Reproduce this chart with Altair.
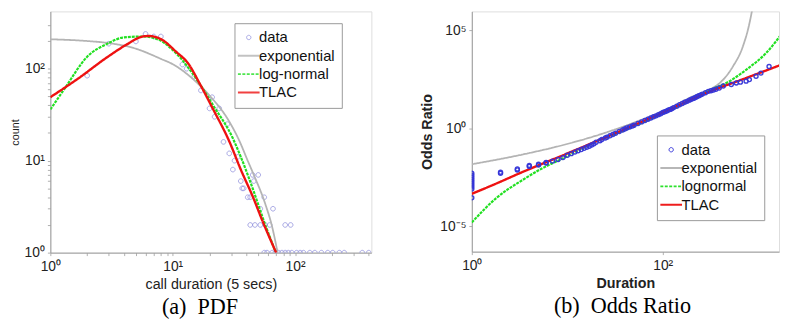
import altair as alt
import pandas as pd

# ---------------- (a) PDF panel ----------------
pdf_x = [2, 3, 5, 6, 7, 8, 12, 13, 15, 17, 20, 21, 22, 24, 26, 28, 29, 31, 32, 34,
         36, 37, 38, 41, 43, 45, 46, 50, 52, 56, 66,
         43, 47, 52, 57, 62, 83, 92,
         56, 59, 65, 69, 73, 78, 83, 88, 94, 103, 110, 117, 132, 145, 164, 185, 203,
         230, 252, 354, 400]
pdf_count = [84, 187, 198, 239, 224, 224, 111, 100, 82, 58, 37, 49, 30, 37, 16, 25, 12, 8, 10, 11,
             6, 5, 5, 4, 4, 7, 6, 7, 3, 4, 3,
             2, 2, 2, 2, 2, 2, 2,
             1, 1, 1, 1, 1, 1, 1, 1, 1, 1, 1, 1, 1, 1, 1, 1, 1,
             1, 1, 1, 1]

exp_x = [1, 2, 3, 5, 8, 10, 15, 20, 28, 35, 41, 46, 57, 65, 72]
exp_y = [209, 200, 190, 165, 128, 112, 75, 51, 28.7, 16.5, 10, 7, 3.4, 1.9, 1.0]

logn_x = [1, 1.3, 2, 3, 3.9, 5.7, 7.7, 10.6, 16.2, 21.4, 31, 36, 46, 55, 69]
logn_y = [36, 60, 135, 190, 218, 224, 206, 148, 72, 40, 17.5, 11, 4.6, 2.3, 1.03]

tlac_x = [1, 1.66, 3, 4.17, 5.7, 6.4, 8.2, 10.6, 13.5, 16.7, 21, 29, 36, 45, 55, 70]
tlac_y = [49, 77, 137, 182, 224, 227, 206, 154, 112, 68, 38, 16.2, 8, 4.1, 2.1, 1.0]

# ---------------- (b) Odds Ratio panel (log10 of odds ratio) ----------------
or_x = [1, 1, 1, 1, 1, 1, 1, 1, 1, 1,
        2, 2, 3, 3, 4, 4, 5, 5, 6, 6, 7, 8, 9, 10, 11, 12, 13, 14, 15, 16, 17, 18, 19,
        20, 22, 23, 25, 26, 28, 30, 32, 35, 38, 40, 42, 45, 48, 50, 55, 60, 65, 70, 75,
        80, 85, 90, 95, 100, 105, 110, 115, 120, 125, 130, 140, 150, 160, 170, 180, 190,
        200, 210, 220, 230, 240, 250, 260, 280, 300, 320, 340, 360, 390, 430, 522, 589,
        650, 746, 807, 948, 1067, 1298, 1778]
or_log = [-2.3, -2.4, -2.5, -2.6, -2.7, -2.8, -2.9, -3.0, -3.1, -3.55,
          -2.30, -2.25, -2.13, -2.08, -1.95, -1.90, -1.88, -1.84, -1.78, -1.75, -1.68,
          -1.60, -1.50, -1.38, -1.30, -1.22, -1.15, -1.09, -1.03, -0.97, -0.92, -0.86,
          -0.80, -0.72, -0.64, -0.58, -0.50, -0.46, -0.39, -0.32, -0.26, -0.17, -0.09,
          -0.04, 0.01, 0.06, 0.11, 0.15, 0.24, 0.32, 0.39, 0.46, 0.52, 0.58, 0.63, 0.69,
          0.74, 0.80, 0.84, 0.88, 0.93, 0.96, 1.00, 1.05, 1.12, 1.20, 1.26, 1.32, 1.37,
          1.43, 1.48, 1.52, 1.57, 1.62, 1.66, 1.70, 1.74, 1.81, 1.88, 1.91, 1.95, 1.99,
          2.05, 2.15, 2.23, 2.31, 2.35, 2.40, 2.48, 2.65, 2.81, 3.15, 3.48]

orexp_x = [1, 3.2, 8.9, 23, 51, 112, 210, 300, 396, 543, 689, 807, 874]
orexp_log = [-1.84, -1.37, -0.87, -0.29, 0.30, 0.97, 1.64, 1.94, 2.31, 3.15, 4.16, 5.33, 6.17]

orlogn_x = [1, 1.82, 3.44, 5.5, 8.9, 19.6, 37, 100, 200, 300, 502, 746, 1200, 1930]
orlogn_log = [-4.81, -3.55, -2.63, -2.04, -1.55, -0.70, -0.17, 0.75, 1.45, 1.90, 2.40, 2.98, 3.82, 5.08]

ortlac_x = [1, 2, 3, 10, 37, 100, 300, 746, 1930]
ortlac_log = [-3.35, -2.73, -2.35, -1.29, -0.12, 0.80, 1.84, 2.56, 3.32]

# ---------------- styling ----------------
C_DATA_A = "#9090dc"
C_DATA_B = "#3434d8"
C_EXP = "#b4b4b4"
C_LOGN = "#22e022"
C_TLAC = "#ee1111"
CIRCLE = "M-0.2,0A0.2,0.2,0,1,1,0.2,0A0.2,0.2,0,1,1,-0.2,0Z"
LINE = "M-1,0L1,0"
SANS = "Liberation Sans"


def lines_df(xs, ys, names, logy=False):
    rows = []
    for x, y, n in zip(xs, ys, names):
        for a, b in zip(x, y):
            rows.append({"x": a, "y": (10 ** b) if logy else b, "series": n})
    return pd.DataFrame(rows)


def decade_values(lo, hi):
    vals = []
    d = 1
    while d <= hi:
        for m in range(1, 10):
            v = m * d
            if lo <= v <= hi:
                vals.append(v)
        d *= 10
    return vals


def panel(points_df, lines, names, colors, widths, dashes, pt_size, pt_width, pt_op,
          xdom, ydom, xaxis, yaxis, legend_xy, caption, cap_dx, w, h, points_on_top):
    cscale = alt.Scale(domain=names, range=colors)
    sscale = alt.Scale(domain=names, range=[CIRCLE, LINE, LINE, LINE])
    legend = alt.Legend(
        title=None, orient="none", legendX=legend_xy[0], legendY=legend_xy[1],
        labelFont=SANS, labelFontSize=15, labelColor="#111", symbolSize=484,
        symbolStrokeWidth={"expr": "datum.value === '%s' ? 1 : 2" % names[0]},
        symbolDash={"expr": "datum.value === '%s' ? [3, 1.5] : [1, 0]" % names[2]},
        rowPadding=2.6, labelOffset=3, padding=7, strokeColor="#999", fillColor="white",
        symbolFillColor="transparent",
    )
    x = alt.X("x:Q", scale=alt.Scale(type="log", domain=xdom, nice=False), axis=xaxis)
    y = alt.Y("y:Q", scale=alt.Scale(type="log", domain=ydom, nice=False), axis=yaxis)
    pts = alt.Chart(points_df).mark_point(filled=False, size=pt_size, strokeWidth=pt_width,
                                          opacity=pt_op, clip=True).encode(
        x=x, y=y,
        color=alt.Color("series:N", scale=cscale, legend=legend),
        shape=alt.Shape("series:N", scale=sscale, legend=legend),
    )
    line_layers = []
    for n, wdt, dsh in zip(names[1:], widths, dashes):
        line_layers.append(
            alt.Chart(lines).transform_filter(alt.datum.series == n)
            .mark_line(strokeWidth=wdt, strokeDash=dsh, clip=True, interpolate="monotone")
            .encode(x=x, y=y, color=alt.Color("series:N", scale=cscale, legend=legend))
        )
    layers = line_layers + [pts] if points_on_top else [pts] + line_layers
    return alt.layer(*layers).properties(
        width=w, height=h,
        title=alt.TitleParams(caption, orient="bottom", anchor="middle", dx=cap_dx,
                              font="Liberation Serif", fontSize=22.5, fontWeight="normal",
                              color="#000", offset=6),
    )


axis_common = dict(grid=False, domainColor="#9a9a9a", tickColor="#b0b0b0", tickSize=3,
                   labelFont=SANS, labelFontSize=14, labelColor="#222", labelOverlap=False,
                   labelFlush=False, titleFont=SANS, titleColor="#222")

# ----- panel (a)
names_a = ["data", "exponential", "log-normal", "TLAC"]
pts_a = pd.DataFrame({"x": pdf_x, "y": pdf_count, "series": "data"})
lines_a = lines_df([exp_x, logn_x, tlac_x], [exp_y, logn_y, tlac_y], names_a[1:])
xa_vals = decade_values(1, 420)
ya_vals = decade_values(1, 300)
lab_a = ("datum.value == 1 ? '10\u2070' : datum.value == 10 ? '10\u00b9' : "
         "datum.value == 100 ? '10\u00b2' : ''")
xa = alt.Axis(values=xa_vals, labelExpr=lab_a, title="call duration (5 secs)",
              titleFontSize=14.5, titleFontWeight="normal", labelPadding=4, titlePadding=4,
              **axis_common)
ya = alt.Axis(values=ya_vals, labelExpr=lab_a, title="count", titleFontSize=11,
              titleFontWeight="normal", labelPadding=3, titlePadding=4, **axis_common)
left = panel(pts_a, lines_a, names_a, [C_DATA_A, C_EXP, C_LOGN, C_TLAC], [1.8, 2.2, 2.4],
             [[1, 0], [3, 1], [1, 0]], 560, 1, 0.8, [1, 420], [1, 420], xa, ya, (187, 12),
             "(a)\u2002PDF", -11, 326, 245, False)

# ----- panel (b)
names_b = ["data", "exponential", "lognormal", "TLAC"]
pts_b = pd.DataFrame({"x": or_x, "y": [10 ** v for v in or_log], "series": "data"})
lines_b = lines_df([orexp_x, orlogn_x, ortlac_x], [orexp_log, orlogn_log, ortlac_log],
                   names_b[1:], logy=True)
lab_bx = "datum.value == 1 ? '10\u2070' : datum.value == 100 ? '10\u00b2' : ''"
lab_by = "datum.value > 1000 ? '10\u2075' : datum.value > 0.5 ? '10\u2070' : '10\u207b\u2075'"
xb = alt.Axis(values=[1, 100], labelExpr=lab_bx, title="Duration", titleFontSize=14.5,
              titleFontWeight="bold", labelPadding=4, titlePadding=4, **axis_common)
yb = alt.Axis(values=[1e-5, 1, 1e5], labelExpr=lab_by, title="Odds Ratio",
              titleFontSize=14.5, titleFontWeight="bold", labelPadding=3, titlePadding=6,
              **axis_common)
right = panel(pts_b, lines_b, names_b, [C_DATA_B, C_EXP, C_LOGN, C_TLAC], [1.8, 2.2, 2.4],
              [[1, 0], [3, 1], [1, 0]], 420, 1.4, 0.95, [1, 1650], [10 ** -6.3, 10 ** 5.96],
              xb, yb, (188, 126), "(b)\u2002Odds Ratio", -3, 312, 244, True)

chart = alt.hconcat(left, right, spacing=47).resolve_scale(
    color="independent", shape="independent"
).resolve_legend(color="independent", shape="independent").properties(
    padding={"left": 0, "top": 0, "right": 0, "bottom": 0}
).configure_view(stroke=None).configure(background="white")

chart.save("out.html", embed_options={"renderer": "svg", "actions": False})
